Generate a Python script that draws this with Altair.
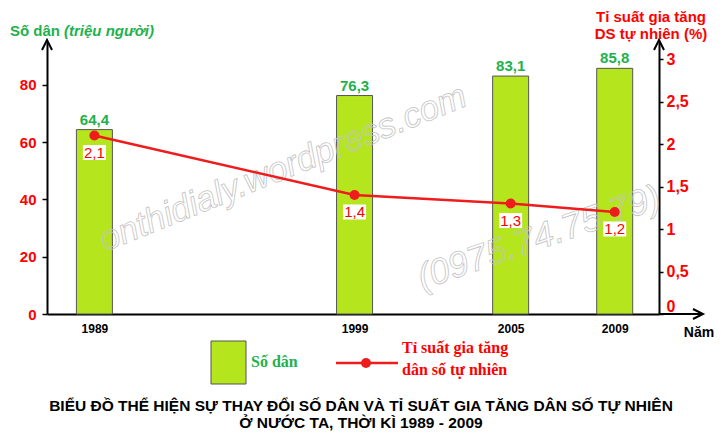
import altair as alt
import pandas as pd

# ---------------- data ----------------
years = [1989, 1999, 2005, 2009]
population = [64.4, 76.3, 83.1, 85.8]          # triệu người
growth_rate = [2.1, 1.4, 1.3, 1.2]             # %
pop_ticks = [0, 10, 20, 30, 40, 50, 60, 70, 80, 90]
rate_ticks = [0, 0.5, 1, 1.5, 2, 2.5, 3]

df = pd.DataFrame({"year": years, "pop": population, "rate": growth_rate})
one = alt.Data(values=[{"k": 0}])

# ---------------- styles ----------------
W, H = 612, 272
LIME = "#b5e61d"
BAR_EDGE = "#555555"
GREEN_TXT = "#22b14c"
RED = "#ff0000"
LINE_RED = "#ee1c1c"
SANS = "Liberation Sans"
SERIF = "Liberation Serif"

x_enc = alt.X(
    "year:Q",
    scale=alt.Scale(domain=[1987.37, 2010.51], nice=False, zero=False),
    axis=alt.Axis(values=years, format="d", title=None, ticks=False, tickSize=0,
                  labelPadding=9, labelFont=SANS, labelFontSize=12,
                  labelFontWeight="bold", labelColor="black",
                  domainColor="black", domainWidth=2, grid=False),
)

yL = alt.Y(
    "pop:Q",
    scale=alt.Scale(domain=[0, 95], nice=False),
    axis=alt.Axis(orient="left", values=pop_ticks, title=None, grid=False,
                  labelExpr="datum.value % 20 == 0 ? datum.label : ''",
                  labelFont=SANS, labelFontSize=15, labelFontWeight="bold",
                  labelColor=RED, labelPadding=6, tickSize=5, tickWidth=1.5,
                  tickColor="black", domainColor="black", domainWidth=2),
)

yR = alt.Y(
    "rate:Q",
    scale=alt.Scale(domain=[0, 3.2], nice=False),
    axis=alt.Axis(orient="right", values=rate_ticks, title=None, grid=False,
                  format=".1~f", labelExpr="replace(datum.label, '.', ',')",
                  labelFont=SANS, labelFontSize=16, labelFontWeight="bold",
                  labelColor=RED, labelPadding=3, tickSize=4, tickWidth=1.5,
                  tickColor="black", domainColor="black", domainWidth=2,
                  labelFlush=True),
)

# ---------------- left group: bars ----------------
bars = alt.Chart(df).mark_bar(width=36, color=LIME, stroke=BAR_EDGE,
                              strokeWidth=1).encode(x=x_enc, y=yL)
bar_text = alt.Chart(df).transform_calculate(
    lbl="replace(format(datum.pop, '.1f'), '.', ',')"
).mark_text(dy=-5, baseline="alphabetic", fontSize=15, fontWeight="bold",
            color=GREEN_TXT, font=SANS).encode(x="year:Q", y="pop:Q", text="lbl:N")
left_group = alt.layer(bars, bar_text)

# ---------------- watermark ----------------
wm1 = alt.Chart(one).mark_text(
    text="onthidialy.wordpress.com", font=SANS, fontSize=35, fontStyle="italic",
    angle=338, stroke="#c4c4c4", strokeWidth=0.8, fillOpacity=0,
    align="center", baseline="middle",
).encode(x=alt.value(236), y=alt.value(126))
wm2 = alt.Chart(one).mark_text(
    text="(0975.74.75.79)", font=SANS, fontSize=36, fontStyle="italic",
    angle=341, stroke="#c4c4c4", strokeWidth=0.8, fillOpacity=0,
    align="center", baseline="middle",
).encode(x=alt.value(492), y=alt.value(196))

# ---------------- right group: growth-rate line ----------------
line = alt.Chart(df).mark_line(color=LINE_RED, strokeWidth=2.5).encode(x="year:Q", y=yR)
pts = alt.Chart(df).mark_point(filled=True, size=100, color=LINE_RED,
                               opacity=1).encode(x="year:Q", y="rate:Q")
boxes = alt.Chart(df).mark_point(
    shape="M-1.15,-0.75L1.15,-0.75L1.15,0.75L-1.15,0.75Z", size=400,
    filled=True, color="white", opacity=1, yOffset=17,
).encode(x="year:Q", y="rate:Q")
rate_text = alt.Chart(df).transform_calculate(
    lbl="replace(format(datum.rate, '.1f'), '.', ',')"
).mark_text(dy=17, baseline="middle", fontSize=15, color=RED,
            font=SANS).encode(x="year:Q", y="rate:Q", text="lbl:N")
right_group = alt.layer(line, pts, boxes, rate_text)

# ---------------- decorations (axis arrows, titles, legend) ----------------
arrow_up_l = alt.Chart(one).mark_point(
    shape="M-1,2L0,0L1,2", size=100, filled=False, color="black",
    strokeWidth=2, opacity=1).encode(x=alt.value(0), y=alt.value(-2))
arrow_up_r = alt.Chart(one).mark_point(
    shape="M-1,2L0,0L1,2", size=100, filled=False, color="black",
    strokeWidth=2, opacity=1).encode(x=alt.value(W), y=alt.value(-2))
x_ext = alt.Chart(one).mark_rule(color="black", strokeWidth=2).encode(
    x=alt.value(W), x2=alt.value(W + 44), y=alt.value(H))
arrow_x = alt.Chart(one).mark_point(
    shape="M-2,-1L0,0L-2,1", size=100, filled=False, color="black",
    strokeWidth=2, opacity=1).encode(x=alt.value(W + 44), y=alt.value(H))

ytitle_a = alt.Chart(one).mark_text(
    text="Số dân", font=SANS, fontSize=15, fontWeight="bold", color=GREEN_TXT,
    align="left", baseline="alphabetic").encode(x=alt.value(-37), y=alt.value(-6))
ytitle_b = alt.Chart(one).mark_text(
    text="(triệu người)", font=SANS, fontSize=15, fontWeight="bold",
    fontStyle="italic", color=GREEN_TXT, align="left",
    baseline="alphabetic").encode(x=alt.value(17), y=alt.value(-6))
ytitle_r = alt.Chart(one).mark_text(
    text=["Tỉ suất gia tăng", "DS tự nhiên (%)"], font=SANS, fontSize=15,
    fontWeight="bold", color=RED, align="center", baseline="alphabetic",
    lineHeight=17).encode(x=alt.value(604), y=alt.value(-20))
xtitle = alt.Chart(one).mark_text(
    text="Năm", font=SANS, fontSize=14, fontWeight="bold", color="black",
    align="center", baseline="alphabetic").encode(x=alt.value(652), y=alt.value(295))

leg_rect = alt.Chart(one).mark_rect(color=LIME, stroke=BAR_EDGE, strokeWidth=1).encode(
    x=alt.value(164), x2=alt.value(199), y=alt.value(299), y2=alt.value(342))
leg_pop = alt.Chart(one).mark_text(
    text="Số dân", font=SERIF, fontSize=16, fontWeight="bold", color=GREEN_TXT,
    align="left", baseline="alphabetic").encode(x=alt.value(204), y=alt.value(325))
leg_line = alt.Chart(one).mark_rule(color=LINE_RED, strokeWidth=2.5).encode(
    x=alt.value(289), x2=alt.value(351), y=alt.value(321))
leg_pt = alt.Chart(one).mark_point(filled=True, size=100, color=LINE_RED,
                                   opacity=1).encode(x=alt.value(319), y=alt.value(321))
leg_rate = alt.Chart(one).mark_text(
    text=["Tỉ suất gia tăng", "dân số tự nhiên"], font=SERIF, fontSize=16,
    fontWeight="bold", color=RED, align="left", baseline="alphabetic",
    lineHeight=22).encode(x=alt.value(355), y=alt.value(311))

title = alt.Chart(one).mark_text(
    text=["BIỂU ĐỒ THỂ HIỆN SỰ THAY ĐỔI SỐ DÂN VÀ TỈ SUẤT GIA TĂNG DÂN SỐ TỰ NHIÊN",
          "Ở NƯỚC TA, THỜI KÌ 1989 - 2009"],
    font=SANS, fontSize=15.5, fontWeight="bold", color="black", align="center",
    baseline="alphabetic", lineHeight=17).encode(x=alt.value(314), y=alt.value(369))

decor = alt.layer(arrow_up_l, arrow_up_r, x_ext, arrow_x, ytitle_a, ytitle_b,
                  ytitle_r, xtitle, leg_rect, leg_pop, leg_line, leg_pt,
                  leg_rate, title)

chart = alt.layer(left_group, wm1, wm2, right_group, decor).resolve_scale(
    y="independent"
).properties(
    width=W, height=H,
    autosize=alt.AutoSizeParams(type="none"),
    padding={"left": 39, "top": 34, "right": 56, "bottom": 118},
    background="white",
).configure_view(stroke=None)

chart.save("out.html", embed_options={"renderer": "svg", "actions": False})
